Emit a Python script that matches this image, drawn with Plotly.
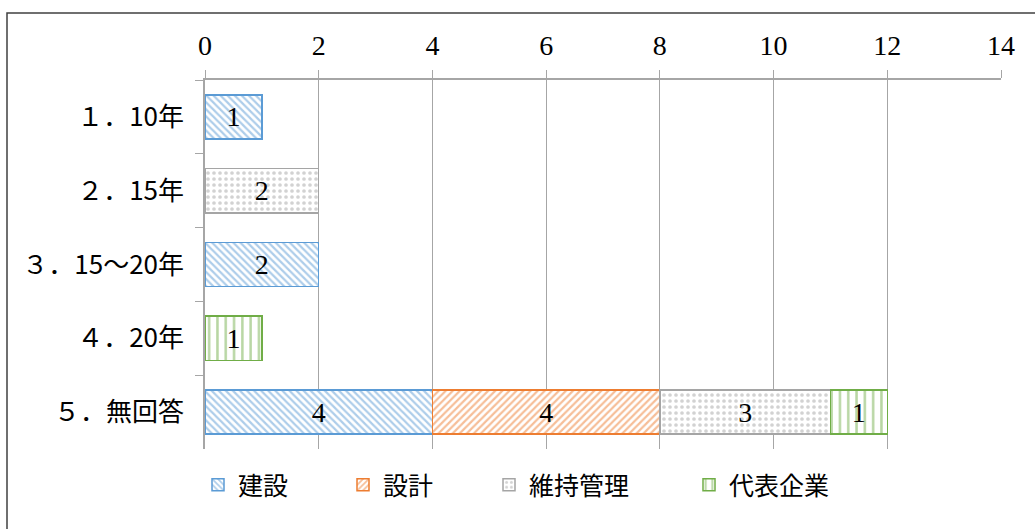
import plotly.graph_objects as go

# Categories (top to bottom) and counts per respondent type
categories = ["１．10年", "２．15年", "３．15～20年", "４．20年", "５．無回答"]
construction = [1, 0, 2, 0, 4]   # 建設
design = [0, 0, 0, 0, 4]         # 設計
maintenance = [0, 2, 0, 0, 3]    # 維持管理
lead_company = [0, 0, 0, 1, 1]   # 代表企業

x_ticks = [0, 2, 4, 6, 8, 10, 12, 14]

series = [
    ("建設", construction, "#5B9BD5", "\\", 5, 0.45, "legend"),
    ("設計", design, "#ED7D31", "/", 5, 0.45, "legend2"),
    ("維持管理", maintenance, "#A5A5A5", ".", 6, 0.3, "legend3"),
    ("代表企業", lead_company, "#70AD47", "|", 8.3, 0.3, "legend4"),
]

serif = "Liberation Serif"
cjk = "Noto Sans CJK JP"

fig = go.Figure()
for name, vals, color, shape, size, solidity, leg in series:
    xs = [v if v else None for v in vals]
    fig.add_trace(go.Bar(
        name=name,
        y=categories,
        x=xs,
        orientation="h",
        width=0.6,
        legend=leg,
        marker=dict(
            color="white",
            line=dict(color=color, width=1.5),
            pattern=dict(shape=shape, fgcolor=color, bgcolor="white",
                         size=size, solidity=solidity, fillmode="overlay"),
        ),
        texttemplate="%{x}",
        textposition="inside",
        insidetextanchor="middle",
        textangle=0,
        textfont=dict(family=serif, size=28, color="black"),
        hoverinfo="skip",
    ))

# Plot area: x 205..1001 px, y 80..449 px
L, R, T, B = 205, 34, 80, 80
W, H = 1035, 529
pw, ph = W - L - R, H - T - B


def px_x(px):
    return (px - L) / pw


def px_y(py):
    return (H - B - py) / ph


legend_text_starts = [240, 385, 531, 731]
legend_common = dict(
    orientation="h", yanchor="middle", xanchor="left",
    font=dict(family=cjk, size=25, color="black"),
    bgcolor="rgba(0,0,0,0)", borderwidth=0, itemclick=False,
)
legend_layout = {}
for i, ts in enumerate(legend_text_starts):
    key = "legend" if i == 0 else f"legend{i + 1}"
    legend_layout[key] = dict(legend_common, x=px_x(ts - 42), y=px_y(485))

fig.update_layout(
    width=W, height=H,
    margin=dict(l=L, r=R, t=T, b=B, pad=0),
    paper_bgcolor="white", plot_bgcolor="white",
    barmode="stack",
    bargap=0.4,
    showlegend=True,
    xaxis=dict(
        side="top", range=[0, 14], tickvals=x_ticks,
        showgrid=True, gridcolor="#A6A6A6", gridwidth=1,
        showline=True, linecolor="#A6A6A6", linewidth=1.5,
        ticks="outside", ticklen=8, tickcolor="#A6A6A6",
        ticklabelstandoff=4,
        tickfont=dict(family=serif, size=28, color="black"),
        zeroline=False, fixedrange=True,
    ),
    yaxis=dict(
        categoryorder="array", categoryarray=categories,
        autorange="reversed",
        showline=True, linecolor="#A6A6A6", linewidth=1.5,
        ticks="outside", ticklen=8, tickcolor="#A6A6A6", tickson="boundaries",
        ticklabelstandoff=14,
        tickfont=dict(family=cjk, size=26, color="black"),
        showgrid=False, fixedrange=True,
    ),
    shapes=[
        # chart frame
        dict(type="rect", xref="paper", yref="paper",
             x0=px_x(7), x1=px_x(1045), y0=px_y(540), y1=px_y(13),
             line=dict(color="#404040", width=1.5), fillcolor="rgba(0,0,0,0)",
             layer="below"),
    ],
    **legend_layout,
)

fig.write_html("out.html")
